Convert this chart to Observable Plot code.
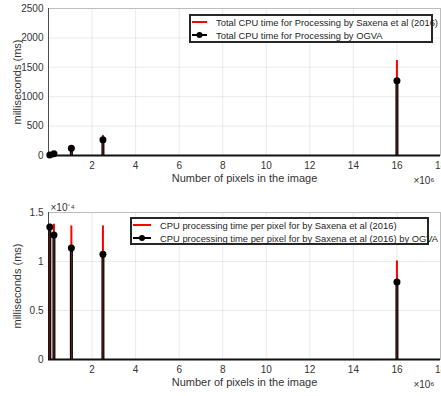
<!DOCTYPE html>
<html><head><meta charset="utf-8">
<script src="https://cdn.jsdelivr.net/npm/d3@7"></script>
<script src="https://cdn.jsdelivr.net/npm/@observablehq/plot@0.6"></script>
<style>
body{margin:0;background:#fff;font-family:"Liberation Sans",Arial,sans-serif}
#wrap{position:relative;width:441px;height:396px;overflow:hidden;background:#fff}
#wrap svg{display:block}
.legend{position:absolute;background:#fff;border:2px solid #262626;box-sizing:border-box;font-size:9.4px;color:#262626}
.legend .row{position:absolute;left:0;height:10px;display:flex;align-items:center;white-space:nowrap}
.legend .row svg{display:block;margin-right:0}
</style></head>
<body><div id="wrap"></div>
<script>
// ---- data ----
const pixels = [0.06e6, 0.25e6, 1.05e6, 2.5e6, 16e6];
const totalSaxena = [9, 34, 145, 340, 1615];
const totalOGVA = [10, 30, 122, 268, 1270];
const perPixelSaxena = [1.38e-4, 1.38e-4, 1.363e-4, 1.363e-4, 1.006e-4];
const perPixelOGVA = [1.353e-4, 1.27e-4, 1.139e-4, 1.074e-4, 0.79e-4];
const xTicks = [2e6, 4e6, 6e6, 8e6, 10e6, 12e6, 14e6, 16e6, 18e6];
const yTicksTop = [0, 500, 1000, 1500, 2000, 2500];
const yTicksBottom = [0, 0.5e-4, 1e-4, 1.5e-4];
const xLabel = "Number of pixels in the image";
const yLabel = "milliseconds (ms)";
const xExponent = "×10⁶";
const yExponentBottom = "×10⁻⁴";
const legendTop = ["Total CPU time for Processing by Saxena et al (2016)", "Total CPU time for Processing by OGVA"];
const legendBottom = ["CPU processing time per pixel for by Saxena et al (2016)", "CPU processing time per pixel for by Saxena et al (2016) by OGVA"];

const wrap = document.getElementById("wrap");

function chart({red, black, yDomain, yTicks, yFormat, height, marginTop, marginBottom, yExp}) {
  const data = pixels.map((x, i) => ({x, red: red[i], black: black[i]}));
  const marks = [
    Plot.frame({stroke: "#bdbdbd"}),
    Plot.ruleX([0], {stroke: "#4d4d4d"}),
    Plot.ruleX(data, {x: "x", y1: 0, y2: "red", stroke: "#ff0000", strokeWidth: 2}),
    Plot.ruleX(data, {x: "x", y1: 0, y2: "black", stroke: "#000", strokeWidth: 3}),
    Plot.ruleX(data, {x: "x", y1: 0, y2: "black", stroke: "#6b2020", strokeWidth: 1}),
    Plot.ruleY([0], {stroke: "#111", strokeWidth: 2}),
    Plot.dot(data, {x: "x", y: "black", r: 3.5, fill: "#000", stroke: "none"}),
    Plot.text([xLabel], {text: d => d, frameAnchor: "bottom", dy: 26, textAnchor: "middle", fontSize: 11, fill: "#333"}),
    Plot.text([xExponent], {text: d => d, frameAnchor: "bottom-right", dy: 28, dx: -6, textAnchor: "end", fontSize: 10, fill: "#333"}),
    Plot.text([yLabel], {text: d => d, frameAnchor: "left", rotate: -90, dx: -31, textAnchor: "middle", fontSize: 11, fill: "#333"})
  ];
  if (yExp) marks.push(Plot.text([yExp], {text: d => d, frameAnchor: "top-left", dy: -9, dx: 2, textAnchor: "start", fontSize: 10, fill: "#333"}));
  return Plot.plot({
    width: 441, height, marginTop, marginBottom, marginLeft: 48, marginRight: 1,
    style: {fontFamily: "Liberation Sans, Arial, sans-serif", fontSize: "10px", color: "#333", background: "#fff", overflow: "visible"},
    x: {domain: [0, 18e6], ticks: xTicks, tickFormat: d => d / 1e6, grid: true, tickSize: 0, tickPadding: 6, label: null},
    y: {domain: yDomain, ticks: yTicks, tickFormat: yFormat, grid: true, tickSize: 0, tickPadding: 5, label: null},
    marks
  });
}

wrap.appendChild(chart({red: totalSaxena, black: totalOGVA, yDomain: [0, 2500], yTicks: yTicksTop, yFormat: d => String(d), height: 195, marginTop: 8, marginBottom: 40}));
wrap.appendChild(chart({red: perPixelSaxena, black: perPixelOGVA, yDomain: [0, 1.5e-4], yTicks: yTicksBottom, yFormat: d => String(+(d * 1e4).toFixed(1)), height: 201, marginTop: 17, marginBottom: 37, yExp: yExponentBottom}));

function legend(labels, box) {
  const div = document.createElement("div");
  div.className = "legend";
  Object.assign(div.style, {left: box.left + "px", top: box.top + "px", width: box.width + "px", height: box.height + "px"});
  labels.forEach((lab, i) => {
    const row = document.createElement("div");
    row.className = "row";
    row.style.top = box.rows[i] + "px";
    const isDot = i === 1;
    row.innerHTML = `<svg width="${box.sample}" height="10" style="margin-left:${box.pad}px;margin-right:${box.gap}px"><line x1="0" x2="${box.sample}" y1="5" y2="5" stroke="${isDot ? '#000' : '#ff0000'}" stroke-width="2"/>${isDot ? `<circle cx="${box.sample / 2}" cy="5" r="3" fill="#000"/>` : ""}</svg><span>${lab}</span>`;
    div.appendChild(row);
  });
  wrap.appendChild(div);
}
legend(legendTop, {left: 189, top: 14, width: 244, height: 29, rows: [1, 14], sample: 15, pad: 1, gap: 9});
legend(legendBottom, {left: 130, top: 217, width: 299, height: 28, rows: [1, 14], sample: 18, pad: 1, gap: 9});
</script>
</body></html>
